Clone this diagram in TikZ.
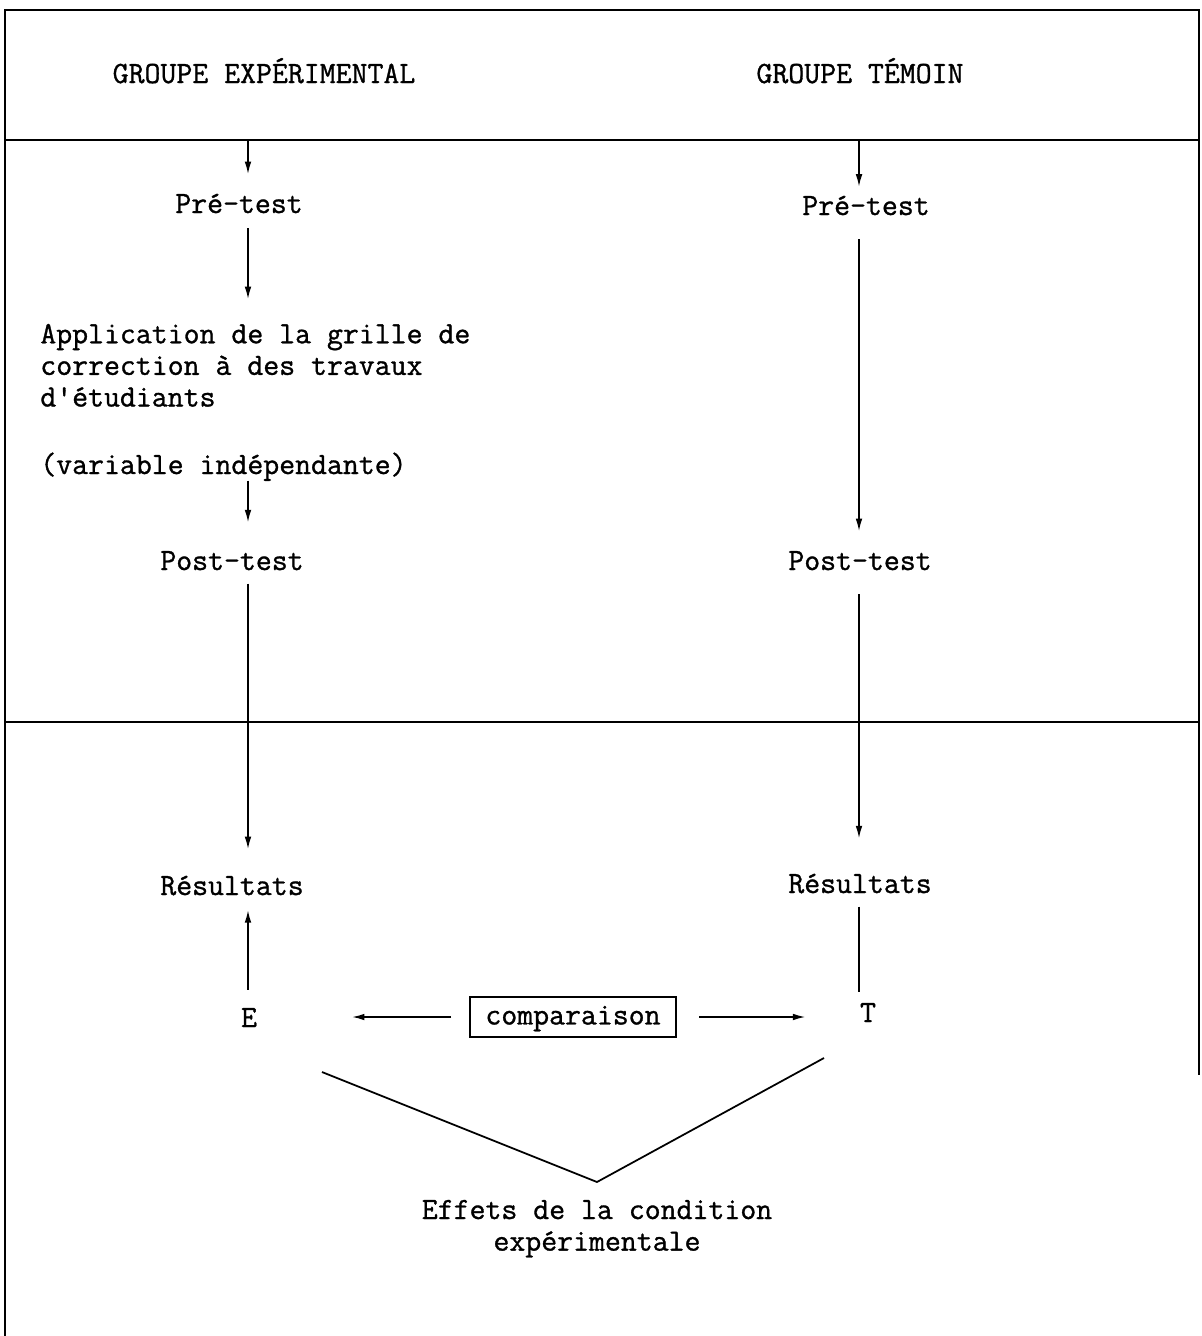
\documentclass[tikz,border=0pt]{standalone}
\usepackage{fontspec}
\usepackage{tikz}
\usetikzlibrary{arrows.meta}
\newfontfamily\typefont{Latin Modern Mono}[FakeBold=1.0]

\begin{document}
\begin{tikzpicture}[x=0.02cm, y=-0.02cm]

                \tikzstyle{lab}   = [font=\typefont\fontsize{17.6}{18}\selectfont, text height=12pt, text depth=3.5pt, inner xsep=0pt, inner ysep=10pt, anchor=base]
                \tikzstyle{block} = [font=\typefont\fontsize{17.6}{18}\selectfont, inner xsep=0pt, inner ysep=10pt]
                \tikzstyle{arr}   = [-{Latex[length=7pt, width=3.8pt]}, line width=0.8pt]
                \tikzstyle{frame} = [line width=1.5pt]

                \useasboundingbox (0,0) rectangle (1201,1336);

                \draw [frame] (5,1336) -- (5,10) -- (1199,10) -- (1199,1075);
                \foreach \y in {140, 722}
                {
                        \draw [frame] (5,\y) -- (1199,\y);
                }

                \coordinate (top) at (0,140);
                \coordinate (colE) at (248,0);
                \coordinate (colT) at (859,0);

                \node [lab](hdE) at (264,83) {GROUPE EXPÉRIMENTAL};
                \node [lab](hdT) at (860,83) {GROUPE TÉMOIN};

                \node [lab](preE) at (239,213) {Pré-test};
                \node [lab](preT) at (866,215) {Pré-test};

                \node [block, align=left, anchor=north west](appl) at (40,306) {Application de la grille de\\correction à des travaux\\d'étudiants};
                \node [lab, anchor=base west, inner ysep=0pt](varE) at (40,474) {(variable indépendante)};

                \node [lab](postE) at (232,570) {Post-test};
                \node [lab](postT) at (860,570) {Post-test};

                \node [lab](resE) at (232,895) {Résultats};
                \node [lab](resT) at (860,893) {Résultats};

                \node [lab](E) at (249,1027) {E};
                \node [lab](T) at (868,1022) {T};
                \node [lab, draw, line width=1.1pt, anchor=center, inner xsep=9pt, inner ysep=3.4pt](cmp) at (573,1017) {comparaison};

                \node [block, align=center, anchor=north](eff) at (597,1182) {Effets de la condition\\expérimentale};

                \draw [arr] (top -| colE) -- (preE.north -| colE);
                \draw [arr, shorten >=-6pt] (top -| colT) -- (preT.north -| colT);
                \draw [arr, shorten <=-5pt, shorten >=4pt] (preE.south -| colE) -- (appl.north -| colE);
                \draw [arr, shorten >=5pt] (varE.south -| colE) -- (postE.north -| colE);
                \draw [arr, shorten <=-6pt, shorten >=4pt] (postE.south -| colE) -- (resE.north -| colE);
                \draw [arr, shorten <=-1pt, shorten >=-5pt] (E.north -| colE) -- (resE.south -| colE);

                \draw [arr] (preT.south -| colT) -- (postT.north -| colT);
                \draw [arr, shorten >=9pt] (postT.south -| colT) -- (resT.north -| colT);
                \draw [line width=0.8pt, shorten <=-6pt, shorten >=-5pt] (resT.south -| colT) -- (T.north -| colT);

                \draw [arr, shorten <=10pt, shorten >=54pt] (cmp.west) -- (cmp.west -| E.east);
                \draw [arr, shorten <=12.5pt, shorten >=31pt] (cmp.east) -- (cmp.east -| T.west);

                \coordinate (vl) at (322,1072);
                \coordinate (vr) at (824,1058);
                \draw [line width=1pt] (vl) -- (eff.north) -- (vr);

\end{tikzpicture}
\end{document}
